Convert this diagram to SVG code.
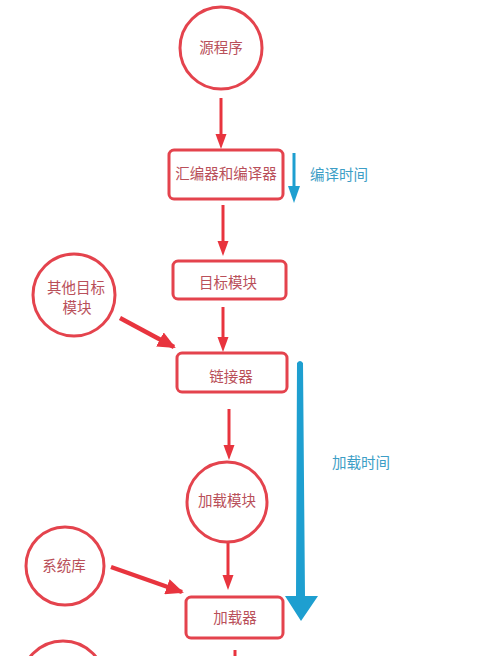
<svg xmlns="http://www.w3.org/2000/svg" width="500" height="656" viewBox="0 0 500 656">
<defs>
<style>
.node{fill:#fff;stroke:#e4434d;stroke-width:3}
.t{font-family:"Noto Sans CJK SC","Liberation Sans",sans-serif;font-size:14.5px;fill:#b9505a;text-anchor:middle}
.bt{font-family:"Noto Sans CJK SC","Liberation Sans",sans-serif;font-size:14.5px;fill:#3d9ec6;text-anchor:start}
.ra{stroke:#e8343e;stroke-width:3;fill:none}
.rad{stroke:#e8343e;stroke-width:4.5;fill:none}
</style>
<marker id="rh2" markerWidth="18" markerHeight="16" refX="16" refY="8" orient="auto" markerUnits="userSpaceOnUse" viewBox="0 0 18 16">
<path d="M0,0 L18,8 L0,16 Z" fill="#e8343e"/>
</marker>
</defs>
<rect width="500" height="656" fill="#fff"/>

<g id="connectors">
<line class="ra" x1="221" y1="98" x2="221" y2="137"/>
<path d="M215.5,134 L226.5,134 L221,149 Z" fill="#e8343e"/>
<line class="ra" x1="223" y1="205" x2="223" y2="244"/>
<path d="M217.5,241 L228.5,241 L223,256 Z" fill="#e8343e"/>
<line class="ra" x1="223" y1="307" x2="223" y2="340"/>
<path d="M217.5,337 L228.5,337 L223,352 Z" fill="#e8343e"/>
<line class="ra" x1="229" y1="409" x2="229" y2="448"/>
<path d="M223.5,445 L234.5,445 L229,460 Z" fill="#e8343e"/>
<line class="ra" x1="228" y1="543" x2="228" y2="578"/>
<path d="M222.5,575 L233.5,575 L228,590 Z" fill="#e8343e"/>
<line class="ra" x1="235" y1="650" x2="235" y2="660"/>
<line class="rad" x1="120" y1="318" x2="174" y2="347" marker-end="url(#rh2)"/>
<line class="rad" x1="111" y1="567" x2="182" y2="592" marker-end="url(#rh2)"/>
<line x1="294" y1="153" x2="294" y2="190" stroke="#1e9fd0" stroke-width="3"/>
<path d="M288,186 L300,186 L294,203 Z" fill="#1e9fd0"/>
<path d="M297,363 Q300,359 303,363 L305,596 L318,596 L301,621 L285,596 L296,596 Z" fill="#1e9fd0"/>
</g>

<g id="n-source">
<circle class="node" cx="221" cy="48" r="41"/>
<text class="t" x="221" y="53">源程序</text>
</g>
<g id="n-compiler">
<rect class="node" x="169" y="150" width="114" height="49" rx="5"/>
<text class="t" x="226" y="179">汇编器和编译器</text>
</g>
<g id="n-objmod">
<rect class="node" x="173" y="261" width="113" height="38" rx="5"/>
<text class="t" x="228" y="288">目标模块</text>
</g>
<g id="n-otherobj">
<circle class="node" cx="74" cy="295" r="41"/>
<text class="t" x="76" y="293">其他目标</text>
<text class="t" x="77" y="313">模块</text>
</g>
<g id="n-linker">
<rect class="node" x="177" y="353" width="110" height="39" rx="5"/>
<text class="t" x="231" y="382">链接器</text>
</g>
<g id="n-loadmod">
<circle class="node" cx="227" cy="502" r="40"/>
<text class="t" x="227" y="506">加载模块</text>
</g>
<g id="n-syslib">
<circle class="node" cx="65" cy="566" r="39"/>
<text class="t" x="64" y="571">系统库</text>
</g>
<g id="n-loader">
<rect class="node" x="186" y="597" width="97" height="41" rx="5"/>
<text class="t" x="235" y="623">加载器</text>
</g>
<g id="n-bottom">
<circle class="node" cx="63" cy="683" r="42"/>
</g>

<g id="labels">
<text class="bt" x="310" y="180">编译时间</text>
<text class="bt" x="332" y="468">加载时间</text>
</g>
</svg>
